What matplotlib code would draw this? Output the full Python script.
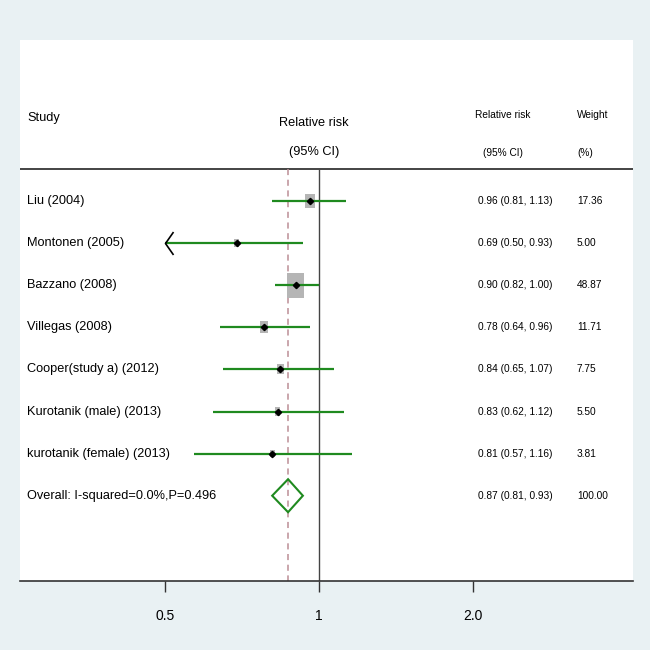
import numpy as np
import matplotlib
matplotlib.use('Agg')
import matplotlib.pyplot as plt
from matplotlib.patches import Rectangle, Polygon

plt.rcParams['font.family'] = ['Liberation Sans', 'DejaVu Sans']

# data
studies = ['Liu (2004)', 'Montonen (2005)', 'Bazzano (2008)', 'Villegas (2008)',
           'Cooper(study a) (2012)', 'Kurotanik (male) (2013)', 'kurotanik (female) (2013)']
rr = [0.96, 0.69, 0.90, 0.78, 0.84, 0.83, 0.81]
lo = [0.81, 0.50, 0.82, 0.64, 0.65, 0.62, 0.57]
hi = [1.13, 0.93, 1.00, 0.96, 1.07, 1.12, 1.16]
weights = [17.36, 5.00, 48.87, 11.71, 7.75, 5.50, 3.81]
overall_label = 'Overall: I-squared=0.0%,P=0.496'
overall = (0.87, 0.81, 0.93)
overall_weight = 100.00
arrow_left = [False, True, False, False, False, False, False]
xticks = [0.5, 1, 2]
xticklabels = ['0.5', '1', '2.0']

green = '#1f8a1f'
fs_big = 9.2
fs_small = 7.3

fig = plt.figure(figsize=(6.5, 6.5), dpi=100)
fig.patch.set_facecolor('#e9f1f3')
ax = fig.add_axes([20/650, 69/650, 613/650, 541/650])
ax.set_facecolor('white')
ax.set_xscale('log', base=2)
ax.set_xlim(0.2603, 4.11)
ax.set_ylim(9.026, -3.824)

px_per_log2 = 154.0
px_per_row = 42.1
tr = ax.get_yaxis_transform()

# header
sep = -0.76
ax.axhline(sep, color='#111111', lw=1.1)
ax.text(0.0114, -1.97, 'Study', transform=tr, fontsize=fs_big, va='center', ha='left')
ax.text(0.4796, -1.85, 'Relative risk', transform=tr, fontsize=fs_big, va='center', ha='center')
ax.text(0.4796, -1.16, '(95% CI)', transform=tr, fontsize=fs_big, va='center', ha='center')
ax.text(0.788, -2.04, 'Relative risk', transform=tr, fontsize=fs_small, va='center', ha='center')
ax.text(0.788, -1.14, '(95% CI)', transform=tr, fontsize=fs_small, va='center', ha='center')
ax.text(0.9086, -2.04, 'Weight', transform=tr, fontsize=fs_small, va='center', ha='left')
ax.text(0.9086, -1.14, '(%)', transform=tr, fontsize=fs_small, va='center', ha='left')

# reference lines
ax.vlines(1, sep, 9.026, color='#444444', lw=1.0)
ax.vlines(overall[0], sep, 9.026, color='#bc8e96', lw=1.1, linestyles=(0, (4, 3)))

for i in range(len(studies)):
    ax.text(0.0114, i, studies[i], transform=tr, fontsize=fs_big, va='center', ha='left')
    ax.text(0.747, i, '%.2f (%.2f, %.2f)' % (rr[i], lo[i], hi[i]), transform=tr,
            fontsize=fs_small, va='center', ha='left')
    ax.text(0.9086, i, '%.2f' % weights[i], transform=tr, fontsize=fs_small, va='center', ha='left')
    # weight box
    wpx = 2.43 * np.sqrt(weights[i])
    hpx = 1.47 * wpx
    hw = wpx / 2 / px_per_log2
    hh = hpx / 2 / px_per_row
    x0 = rr[i] * 2 ** (-hw)
    x1 = rr[i] * 2 ** hw
    ax.add_patch(Rectangle((x0, i - hh), x1 - x0, 2 * hh, facecolor='#b5b5b5',
                           edgecolor='none', zorder=2))
    ax.plot([lo[i], hi[i]], [i, i], color=green, lw=1.6, zorder=3, solid_capstyle='butt')
    ax.plot(rr[i], i, marker='D', ms=3.2, color='black', zorder=4)
    if arrow_left[i]:
        ax.plot(lo[i], i, marker=[(0.7, 1), (0, 0), (0.7, -1)], ms=16.5,
                markerfacecolor='none', markeredgecolor='black', mew=1.2, zorder=4)

n = len(studies)
ax.text(0.0114, n, overall_label, transform=tr, fontsize=fs_big, va='center', ha='left')
ax.text(0.747, n, '%.2f (%.2f, %.2f)' % overall, transform=tr, fontsize=fs_small, va='center', ha='left')
ax.text(0.9086, n, '%.2f' % overall_weight, transform=tr, fontsize=fs_small, va='center', ha='left')
dh = 16.5 / px_per_row
ax.add_patch(Polygon([(overall[1], n), (overall[0], n - dh), (overall[2], n), (overall[0], n + dh)],
                     closed=True, facecolor='none', edgecolor=green, lw=1.5, zorder=3))

for s in ['top', 'left', 'right']:
    ax.spines[s].set_visible(False)
ax.spines['bottom'].set_color('#333333')
ax.spines['bottom'].set_linewidth(1.2)
ax.set_yticks([])
ax.set_xticks(xticks)
ax.set_xticklabels(xticklabels, fontsize=10)
ax.minorticks_off()
ax.tick_params(axis='x', length=8, width=1, color='#333333', pad=12)

fig.savefig('out.png', dpi=100, facecolor=fig.get_facecolor())
